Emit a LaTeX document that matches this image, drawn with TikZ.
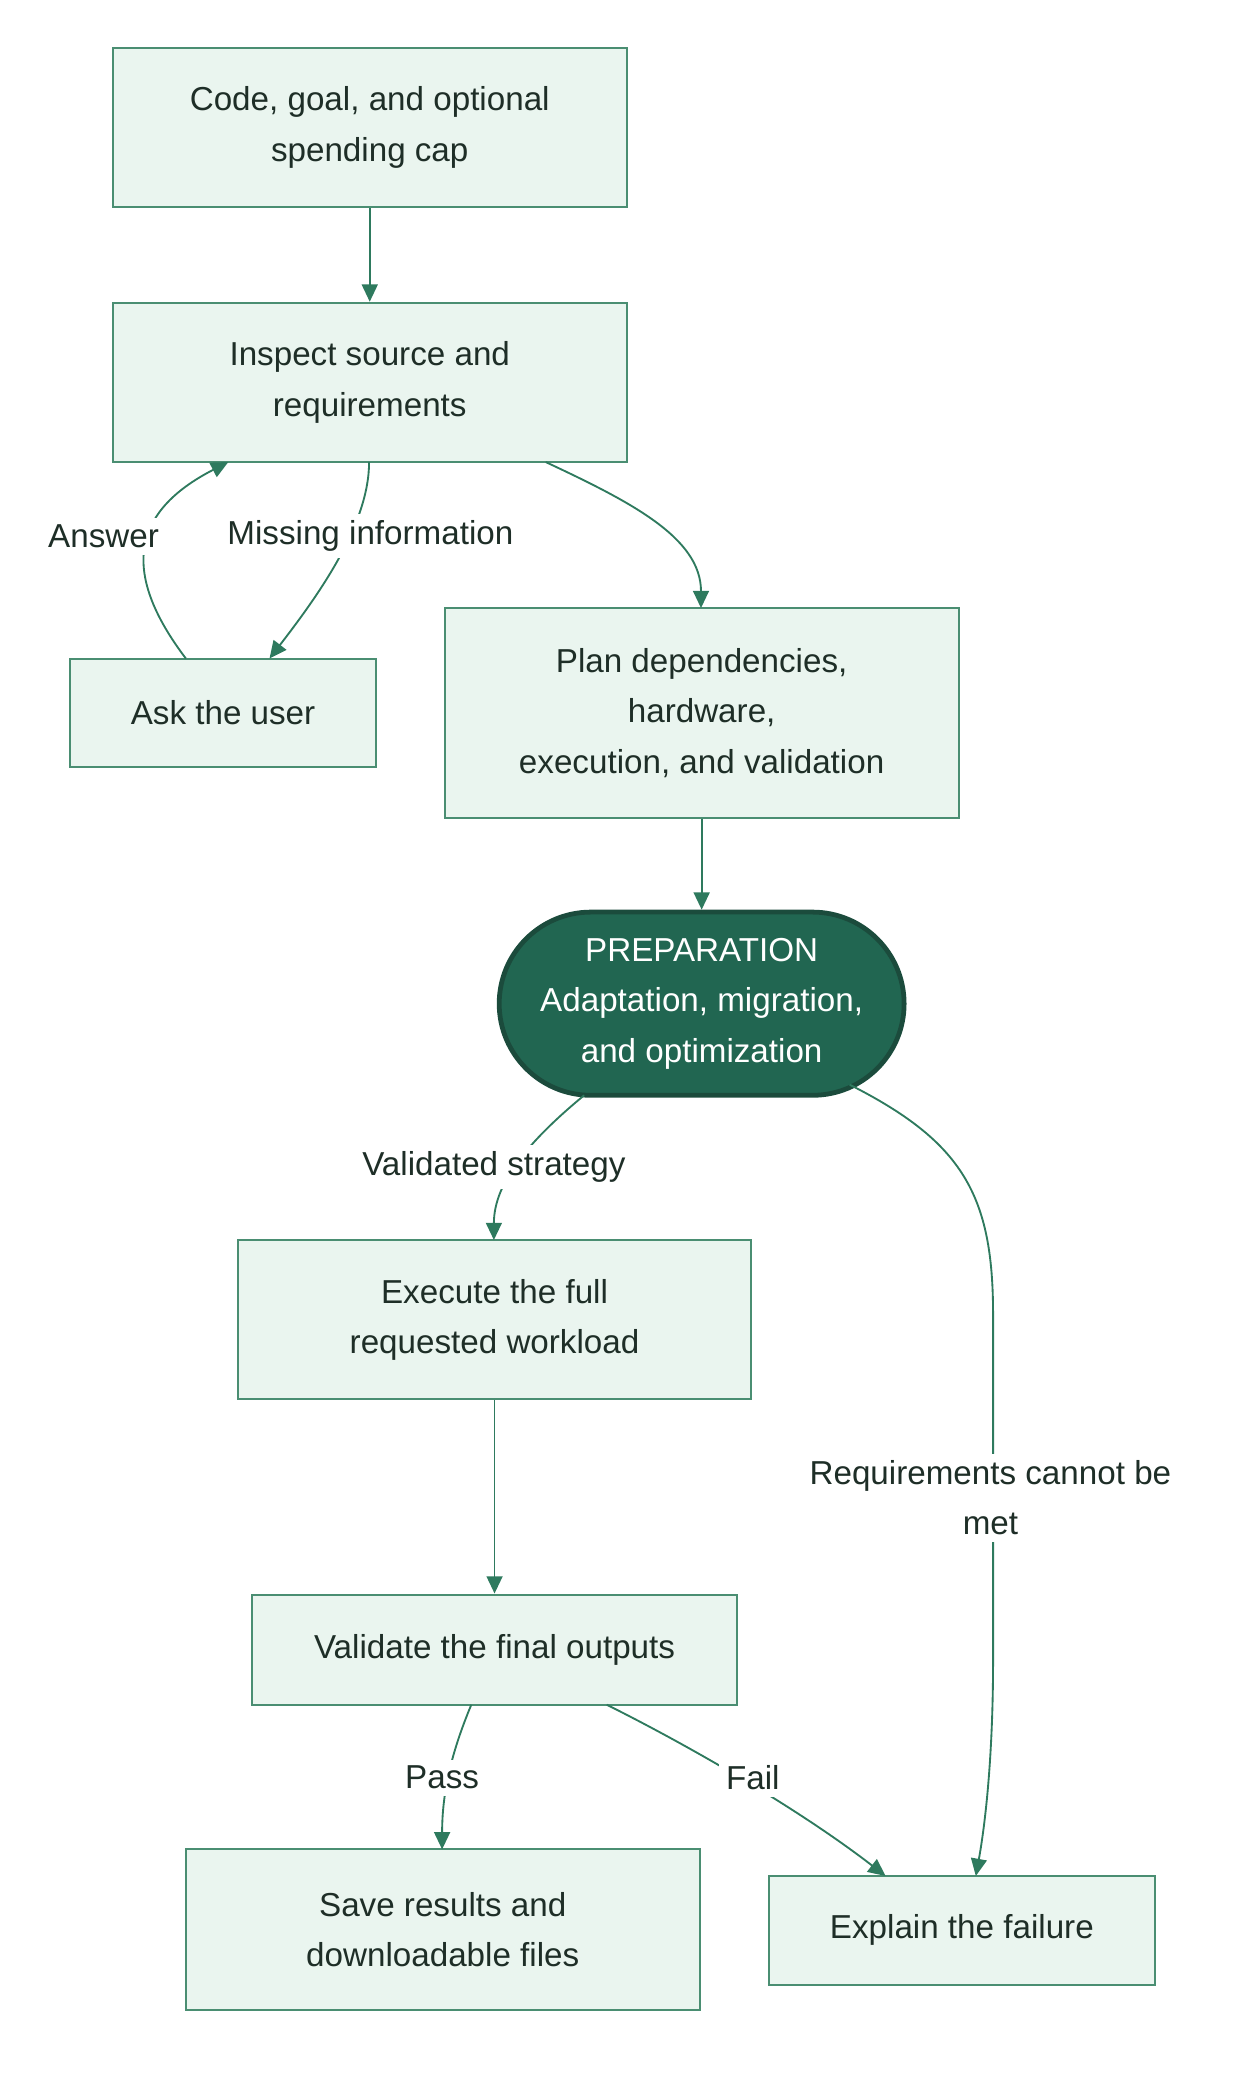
\documentclass[tikz,border=0pt]{standalone}
\usepackage{fontspec}
\setmainfont{Liberation Sans}
\usetikzlibrary{arrows.meta}
\definecolor{boxfill}{HTML}{EAF5EF}
\definecolor{boxline}{HTML}{4A8E72}
\definecolor{edgecol}{HTML}{2E7A5E}
\definecolor{prepfill}{HTML}{216651}
\definecolor{prepline}{HTML}{1B4B3C}
\definecolor{txt}{HTML}{1E2E27}
\tikzset{
  proc/.style={draw=boxline, fill=boxfill, line width=1.5pt, inner sep=0pt, align=center,
    text=txt, font=\fontsize{25}{38}\selectfont},
  prep/.style={draw=prepline, fill=prepfill, line width=3.6pt, inner sep=0pt, align=center,
    text=white, font=\fontsize{25}{38}\selectfont, rounded corners=69pt,
    minimum width=305pt, minimum height=138pt},
  edge/.style={draw=edgecol, line width=1.4pt, -{Triangle[length=13pt,width=12pt]}},
  elabel/.style={fill=white, inner sep=5pt, align=center, text=txt, font=\fontsize{25}{38}\selectfont}
}
\begin{document}
\begin{tikzpicture}[x=1pt,y=-1pt]
\useasboundingbox (0,0) rectangle (946,1568.2);
% nodes
\node[proc, minimum width=387pt, minimum height=120pt] (code) at (278.5,96) {Code, goal, and optional\\spending cap};
\node[proc, minimum width=387pt, minimum height=120pt] (inspect) at (278.5,288) {Inspect source and\\requirements};
\node[proc, minimum width=230pt, minimum height=82pt] (ask) at (168,537) {Ask the user};
\node[proc, minimum width=387pt, minimum height=158pt] (plan) at (528.5,537) {Plan dependencies,\\hardware,\\execution, and validation};
\node[prep] (prep) at (528.5,756) {PREPARATION\\Adaptation, migration,\\and optimization};
\node[proc, minimum width=387pt, minimum height=120pt] (exec) at (372.5,994) {Execute the full\\requested workload};
\node[proc, minimum width=365pt, minimum height=83pt] (valid) at (372.5,1242.5) {Validate the final outputs};
\node[proc, minimum width=387pt, minimum height=121pt] (save) at (333.5,1453.5) {Save results and\\downloadable files};
\node[proc, minimum width=291pt, minimum height=82pt] (explain) at (724.5,1454) {Explain the failure};
% coordinates on node borders
\coordinate (i1) at (411,348);
\coordinate (i2) at (278,348);
\coordinate (i3) at (172,348);
\coordinate (a1) at (140,496);
\coordinate (a2) at (203,496);
\coordinate (pl1) at (528,458);
\coordinate (pr1) at (440,825);
\coordinate (pr2) at (640,817);
\coordinate (ex1) at (372,934);
\coordinate (v1) at (355,1284);
\coordinate (v2) at (457,1284);
\coordinate (s1) at (333,1393);
\coordinate (e1) at (667,1413);
\coordinate (e2) at (735,1413);
% edges
\draw[edge] (code.south) -- (inspect.north);
\draw[edge] (i1) .. controls (475,378) and (528,405) .. (pl1);
\draw[edge] (i2) .. controls (278,395) and (240,448) .. (a2);
\draw[edge] (a1) .. controls (90,430) and (100,385) .. (i3);
\draw[edge] (plan.south) -- (prep.north);
\draw[edge] (pr1) .. controls (400,858) and (372,890) .. (ex1);
\draw[edge] (pr2) .. controls (725,860) and (748,900) .. (748,990) -- (748,1250) .. controls (748,1330) and (741,1380) .. (e2);
\draw[edge] (exec.south) -- (valid.north);
\draw[edge] (v1) .. controls (340,1320) and (333,1350) .. (s1);
\draw[edge] (v2) .. controls (525,1318) and (605,1365) .. (e1);
% edge labels
\node[elabel] (lans) at (78,404) {Answer};
\node[elabel] (lmiss) at (279,404) {Missing information};
\node[elabel] (lval) at (372,879) {Validated strategy};
\node[elabel] (lreq) at (746,1128) {Requirements cannot be\\met};
\node[elabel] (lpass) at (333,1339) {Pass};
\node[elabel] (lfail) at (567,1339) {Fail};
\end{tikzpicture}
\end{document}
